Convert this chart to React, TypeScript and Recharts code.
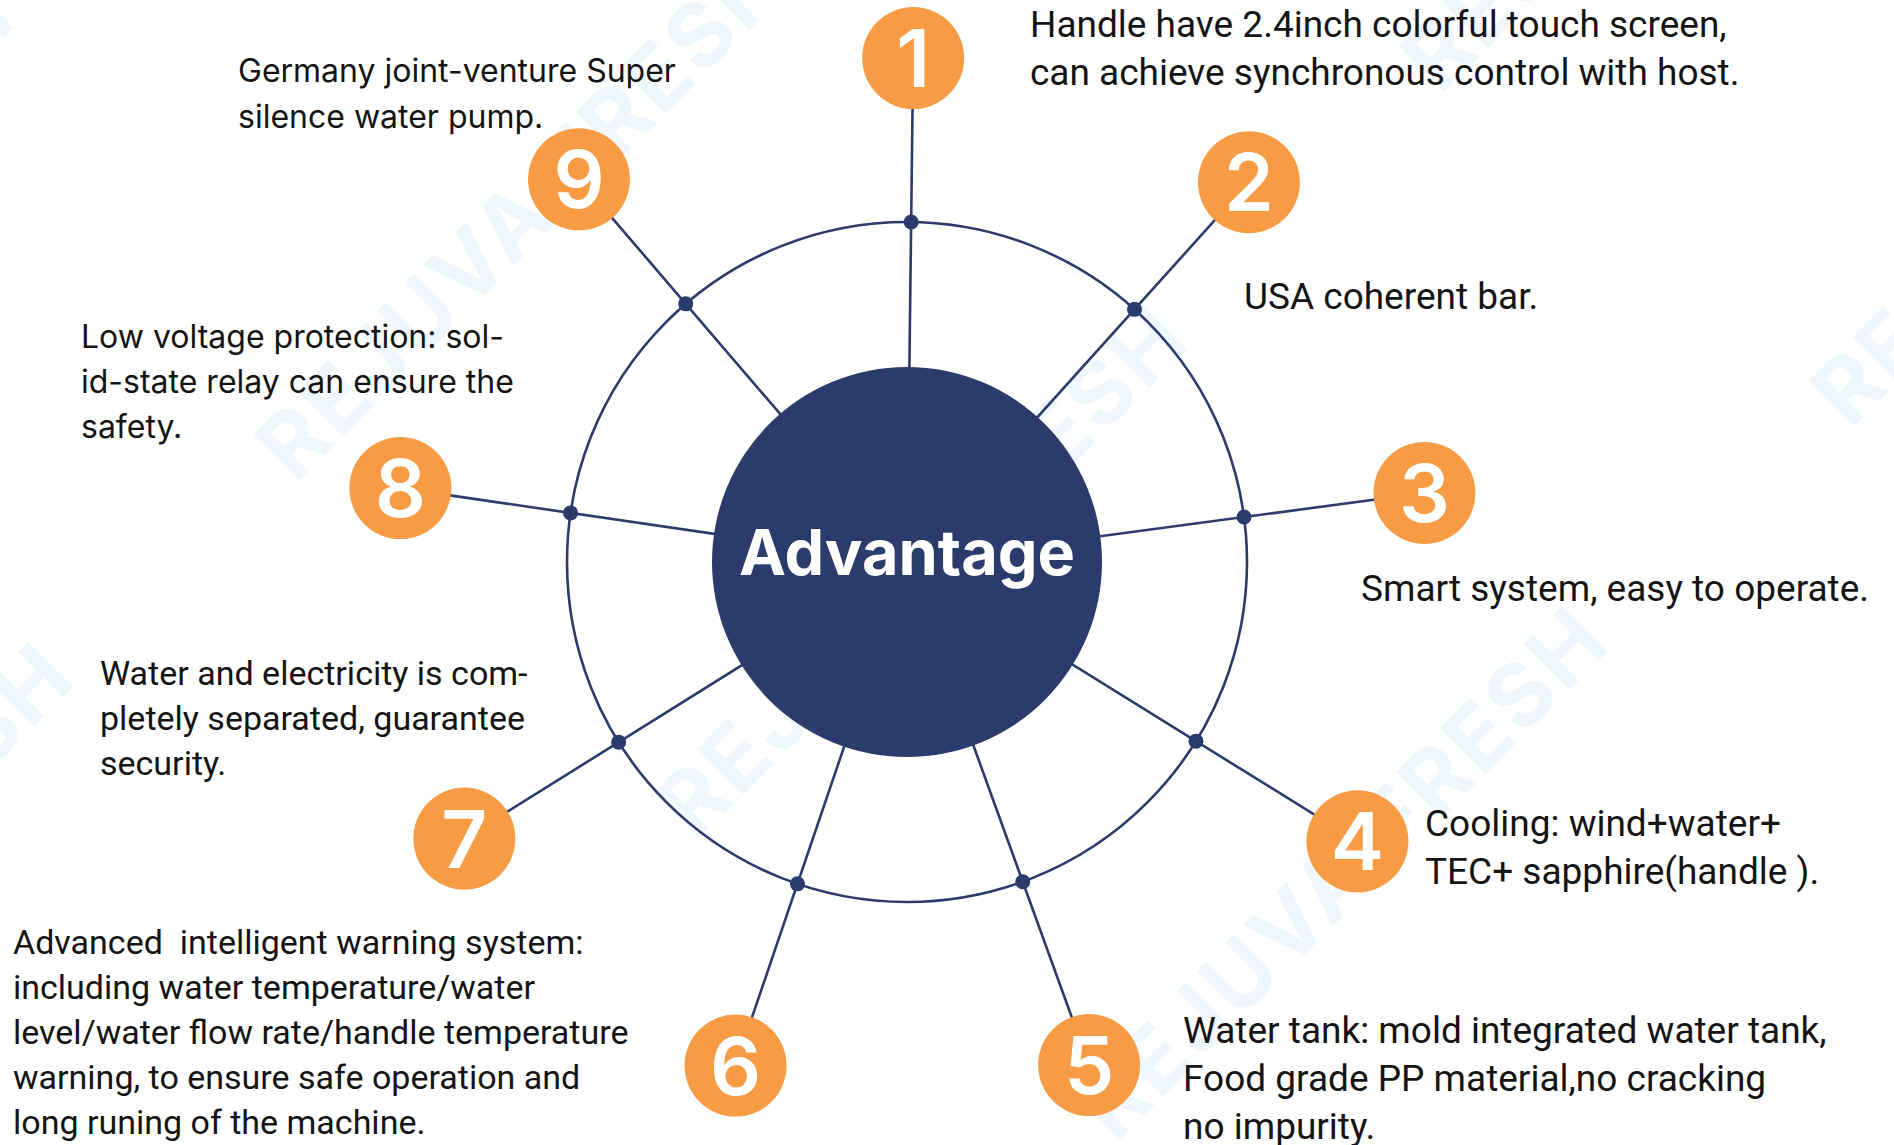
import { ScatterChart, Scatter, XAxis, YAxis } from "recharts";

// values (offsets from the hub, px, y up)
const badgeNumbers = ["1", "2", "3", "4", "5", "6", "7", "8", "9"];
const spokeAngles = [89.3, 48, 7.6, -31.8, -70.1, -108.8, -148, 171.7, 130.6];
const badgeDistances = [504, 511, 522, 530, 535, 532, 522, 512, 504];
const advantageTexts = [
  ["Handle have 2.4inch colorful touch screen,", "can achieve synchronous control with host."],
  ["USA coherent bar."],
  ["Smart system, easy to operate."],
  ["Cooling: wind+water+", "TEC+ sapphire(handle )."],
  ["Water tank: mold integrated water tank,", "Food grade PP material,no cracking", "no impurity."],
  [
    "Advanced  intelligent warning system:",
    "including water temperature/water",
    "level/water flow rate/handle temperature",
    "warning, to ensure safe operation and",
    "long runing of the machine.",
  ],
  ["Water and electricity is com-", "pletely separated, guarantee", "security."],
  ["Low voltage protection: sol-", "id-state relay can ensure the", "safety."],
  ["Germany joint-venture Super", "silence water pump."],
];
const centerTitle = "Advantage";
const watermarkText = "REJUVA FRESH";

// layout
const RING_R = 340;
const HUB_R = 195;
const BADGE_R = 51;
const NAVY = "#2b3b6b";
const ORANGE = "#f79c45";
const textAnchors = [
  [123, 525], [337, 253], [454, -39], [518, -274], [276, -481],
  [-894, -392], [-807, -123], [-826, 214], [-669, 480],
];
const textStyles = [
  { font: "Roboto", size: 37, lh: 48 },
  { font: "Roboto", size: 37, lh: 48 },
  { font: "Roboto", size: 37, lh: 48 },
  { font: "Roboto", size: 37, lh: 48 },
  { font: "Roboto", size: 37, lh: 48 },
  { font: "Roboto", size: 34, lh: 45 },
  { font: "Roboto", size: 34, lh: 45 },
  { font: "Inter", size: 32, lh: 45 },
  { font: "Inter", size: 32, lh: 46 },
];
const watermarkStarts = [
  [-612, 78], [-212, -280], [208, -582], [533, 467], [943, 132], [-1327, -618], [-1387, 42],
];

const rad = (a: number) => (a * Math.PI) / 180;

const badges = badgeNumbers.map((n, i) => ({
  n,
  x: badgeDistances[i] * Math.cos(rad(spokeAngles[i])),
  y: badgeDistances[i] * Math.sin(rad(spokeAngles[i])),
}));
const nodes = spokeAngles.map((a) => ({
  x: RING_R * Math.cos(rad(a)),
  y: RING_R * Math.sin(rad(a)),
}));
// hub -> badge -> hub -> badge ... drawn as one joint line
const spokes = badges.flatMap((b) => [{ x: 0, y: 0 }, { x: b.x, y: b.y }]);
const hub = [{ x: 0, y: 0, label: centerTitle }];
const texts = advantageTexts.map((lines, i) => ({
  x: textAnchors[i][0],
  y: textAnchors[i][1],
  lines,
  ...textStyles[i],
}));
const watermarks = watermarkStarts.map(([x, y]) => ({ x, y }));

const Empty = () => <g />;

export default function App() {
  return (
    <div style={{ position: "absolute", left: 0, top: 0, width: 1894, height: 1145, background: "#fff" }}>
      <ScatterChart width={1894} height={1145} margin={{ top: 0, right: 0, bottom: 0, left: 0 }}>
        <XAxis type="number" dataKey="x" domain={[-907, 987]} hide allowDataOverflow />
        <YAxis type="number" dataKey="y" domain={[-583, 562]} hide allowDataOverflow />
        <Scatter
          data={watermarks}
          isAnimationActive={false}
          shape={(p: any) => (
            <text
              x={p.cx}
              y={p.cy}
              transform={`rotate(-45 ${p.cx} ${p.cy})`}
              fontFamily="Inter"
              fontWeight={700}
              fontSize={88}
              letterSpacing={4}
              fill="#f0f6fe"
            >
              {watermarkText}
            </text>
          )}
        />
        <Scatter
          data={spokes}
          isAnimationActive={false}
          line={{ stroke: NAVY, strokeWidth: 2.6 }}
          lineType="joint"
          shape={Empty}
        />
        <Scatter
          data={hub}
          isAnimationActive={false}
          shape={(p: any) => (
            <g>
              <circle cx={p.cx} cy={p.cy} r={RING_R} fill="none" stroke={NAVY} strokeWidth={2.6} />
              <circle cx={p.cx} cy={p.cy} r={HUB_R} fill={NAVY} />
              <text
                x={p.cx}
                y={p.cy + 13}
                textAnchor="middle"
                fontFamily="Inter"
                fontWeight={700}
                fontSize={63}
                fill="#fff"
              >
                {p.payload.label}
              </text>
            </g>
          )}
        />
        <Scatter
          data={nodes}
          isAnimationActive={false}
          shape={(p: any) => <circle cx={p.cx} cy={p.cy} r={7.5} fill={NAVY} />}
        />
        <Scatter
          data={badges}
          isAnimationActive={false}
          shape={(p: any) => (
            <g>
              <circle cx={p.cx} cy={p.cy} r={BADGE_R} fill={ORANGE} />
              <text
                x={p.cx}
                y={p.cy + 29}
                textAnchor="middle"
                fontFamily="Inter"
                fontWeight={600}
                fontSize={80}
                fill="#fff"
              >
                {p.payload.n}
              </text>
            </g>
          )}
        />
        <Scatter
          data={texts}
          isAnimationActive={false}
          shape={(p: any) => {
            const d = p.payload;
            return (
              <text x={p.cx} y={p.cy} fontFamily={d.font} fontSize={d.size} fill="#141414">
                {d.lines.map((l: string, j: number) => (
                  <tspan key={j} x={p.cx} y={p.cy + j * d.lh} style={{ whiteSpace: "pre" }}>
                    {l}
                  </tspan>
                ))}
              </text>
            );
          }}
        />
      </ScatterChart>
    </div>
  );
}
